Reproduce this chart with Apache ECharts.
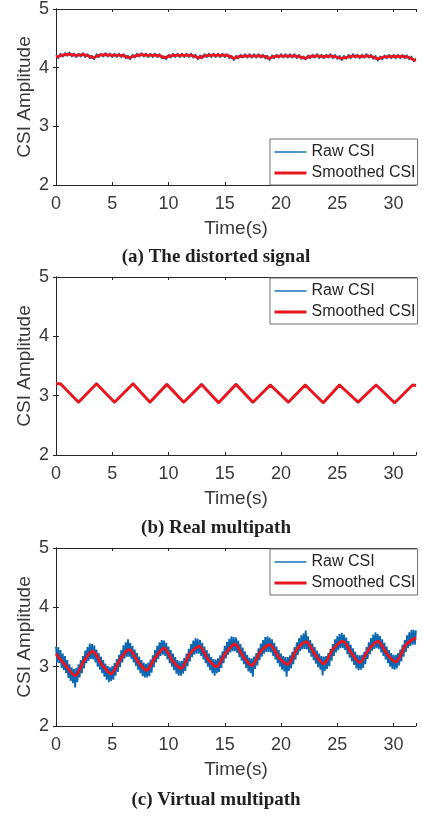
<!DOCTYPE html>
<html>
<head>
<meta charset="utf-8">
<title>CSI Amplitude</title>
<script src="https://cdn.jsdelivr.net/npm/echarts@6/dist/echarts.min.js"></script>
<style>
  html, body { margin: 0; padding: 0; background: #fff; }
  #chart { width: 422px; height: 816px; }
</style>
</head>
<body>
<div id="chart"></div>
<script>
// (a) distorted signal: raw sampled every 0.2 s
var stepA = 0.2;
var rawA = [
  4.22,4.15,4.25,4.18,4.26,4.19,4.27,4.18,4.25,4.17,
  4.25,4.18,4.26,4.17,4.24,4.15,4.21,4.13,4.24,4.17,
  4.25,4.18,4.26,4.18,4.25,4.17,4.25,4.17,4.25,4.17,
  4.24,4.15,4.21,4.13,4.23,4.16,4.25,4.18,4.26,4.18,
  4.25,4.17,4.25,4.17,4.25,4.17,4.24,4.15,4.20,4.13,
  4.23,4.16,4.25,4.17,4.25,4.17,4.25,4.17,4.25,4.17,
  4.25,4.16,4.23,4.13,4.22,4.15,4.24,4.17,4.25,4.17,
  4.25,4.17,4.25,4.17,4.25,4.17,4.24,4.15,4.21,4.12,
  4.21,4.15,4.23,4.16,4.24,4.16,4.24,4.16,4.24,4.16,
  4.24,4.16,4.23,4.15,4.21,4.12,4.22,4.15,4.23,4.16,
  4.24,4.16,4.24,4.16,4.24,4.16,4.24,4.15,4.23,4.14,
  4.20,4.13,4.22,4.15,4.23,4.16,4.24,4.15,4.23,4.15,
  4.23,4.16,4.24,4.15,4.23,4.14,4.21,4.12,4.21,4.14,
  4.23,4.15,4.24,4.16,4.23,4.15,4.23,4.16,4.24,4.16,
  4.23,4.14,4.21,4.11,4.20,4.13,4.22,4.15,4.23,4.15,
  4.23,4.15,4.23,4.15,4.23,4.15,4.22,4.13,4.20,4.10,
  4.16
];
var smoothTimeA = [0,0.5,1.1,1.8,2.4,2.9,3.3,3.8,4.4,5.0,5.6,6.1,6.45,7.0,7.6,8.2,8.8,9.3,9.6,10.1,
  10.7,11.3,11.9,12.4,12.7,13.2,13.8,14.4,15.0,15.5,15.8,16.3,16.9,17.5,18.1,18.6,18.9,19.4,20.0,20.6,
  21.2,21.8,22.1,22.6,23.2,23.8,24.4,25.0,25.35,25.9,26.5,27.1,27.7,28.2,28.6,29.1,29.7,30.3,30.9,31.4,31.9,32];
var smoothA = [4.18,4.21,4.23,4.21,4.22,4.20,4.17,4.21,4.22,4.21,4.21,4.20,4.17,4.20,4.22,4.21,4.21,4.20,4.17,4.20,
  4.21,4.21,4.21,4.19,4.17,4.20,4.21,4.21,4.21,4.19,4.16,4.19,4.20,4.20,4.20,4.19,4.16,4.19,4.20,4.20,
  4.20,4.18,4.16,4.19,4.20,4.19,4.20,4.18,4.16,4.18,4.20,4.19,4.20,4.18,4.15,4.18,4.19,4.19,4.19,4.17,4.13,4.13];

// (b) real multipath
var rawTimeB = [0,0.2,0.4,1.2,2.0,2.8,3.6,4.4,5.2,6.0,6.85,7.6,8.35,9.1,9.85,10.6,11.35,12.15,12.95,13.7,
  14.45,15.2,16.0,16.75,17.5,18.3,19.05,19.85,20.65,21.4,22.15,22.95,23.75,24.5,25.2,26.0,26.85,27.65,28.45,29.3,
  30.1,30.9,31.7,32.0];
var rawB = [3.21,3.20,3.21,3.04,2.87,3.05,3.22,3.05,2.87,3.04,3.22,3.05,2.87,3.04,3.21,3.04,2.87,3.05,3.21,3.03,
  2.86,3.04,3.21,3.04,2.87,3.03,3.20,3.03,2.87,3.04,3.20,3.03,2.86,3.03,3.20,3.04,2.87,3.03,3.20,3.03,
  2.86,3.03,3.19,3.17];
var smoothTimeB = [0,0.4,2.0,3.6,5.2,6.85,8.35,9.85,11.35,12.95,14.45,16.0,17.5,19.05,20.65,22.15,23.75,25.2,26.85,28.45,30.1,31.7,32.0];
var smoothB = [3.20,3.20,2.89,3.20,2.89,3.20,2.89,3.19,2.89,3.19,2.88,3.19,2.89,3.18,2.89,3.18,2.88,3.18,2.89,3.18,2.88,3.18,3.17];

// (c) virtual multipath: raw sampled every 0.1 s
var stepC = 0.1;
var rawC = [
  3.34,3.07,3.33,3.06,3.28,2.98,3.22,2.94,3.18,2.89,3.11,2.81,3.04,2.76,2.99,2.72,2.96,2.65,
  2.98,2.74,3.04,2.82,3.11,2.89,3.18,2.97,3.27,3.06,3.33,3.10,3.39,3.13,3.38,
  3.12,3.36,3.07,3.29,3.00,3.23,2.95,3.17,2.89,3.11,2.83,3.05,2.78,3.01,2.74,2.99,2.76,
  3.01,2.78,3.06,2.85,3.13,2.91,3.20,2.99,3.28,3.07,3.36,3.14,3.41,3.17,3.46,3.17,
  3.40,3.13,3.35,3.07,3.29,3.01,3.23,2.95,3.17,2.89,3.11,2.84,3.07,2.82,3.05,
  2.82,3.07,2.84,3.12,2.90,3.19,2.99,3.28,3.07,3.35,3.13,3.41,3.18,3.45,3.20,3.44,
  3.18,3.40,3.12,3.34,3.06,3.28,3.00,3.22,2.94,3.16,2.88,3.11,2.85,3.09,2.85,
  3.10,2.88,3.15,2.93,3.22,3.01,3.30,3.09,3.38,3.16,3.44,3.20,3.48,3.22,3.47,3.22,
  3.45,3.18,3.40,3.12,3.34,3.06,3.28,3.00,3.22,2.94,3.16,2.89,3.13,2.85,3.12,
  2.89,3.14,2.91,3.19,2.98,3.26,3.06,3.35,3.14,3.42,3.20,3.47,3.24,3.51,3.26,3.50,3.26,
  3.49,3.23,3.44,3.16,3.38,3.10,3.32,3.04,3.26,2.98,3.20,2.92,3.15,2.89,3.14,
  2.83,3.17,2.96,3.23,3.02,3.31,3.11,3.39,3.17,3.45,3.22,3.50,3.25,3.51,3.25,3.49,
  3.24,3.46,3.18,3.40,3.12,3.34,3.06,3.28,3.00,3.22,2.95,3.18,2.92,3.16,2.83,3.16,
  2.93,3.19,2.97,3.25,3.04,3.33,3.12,3.41,3.20,3.48,3.26,3.53,3.29,3.56,3.30,3.61,
  3.29,3.51,3.23,3.45,3.17,3.39,3.11,3.33,3.05,3.27,2.99,3.22,2.95,3.18,2.85,3.17,
  2.93,3.18,2.96,3.23,3.01,3.30,3.10,3.38,3.18,3.46,3.24,3.51,3.28,3.55,3.31,3.57,3.31,
  3.54,3.28,3.49,3.21,3.43,3.15,3.37,3.09,3.31,3.03,3.25,2.97,3.20,2.94,3.19,
  2.95,3.20,2.98,3.25,3.04,3.33,3.13,3.41,3.21,3.48,3.27,3.54,3.30,3.58,3.31,3.55,
  3.30,3.52,3.24,3.46,3.18,3.40,3.12,3.34,3.06,3.28,3.00,3.23,2.96,3.20,2.95,3.20,
  2.97,3.23,3.02,3.29,3.09,3.37,3.17,3.45,3.25,3.53,3.31,3.58,3.35,3.62,3.37,3.62,3.37,3.61
];
var smoothTimeC = [0,0.85,1.7,2.5,3.25,4.1,4.9,5.7,6.5,7.3,8.05,8.8,9.6,10.35,11.1,11.9,12.75,13.5,14.25,15.05,
  15.9,16.65,17.4,18.2,19.0,19.8,20.6,21.4,22.25,23.0,23.8,24.65,25.5,26.25,27.0,27.8,28.6,29.4,30.2,31.1,32];
var smoothC = [3.22,3.02,2.85,3.10,3.26,3.03,2.88,3.12,3.29,3.08,2.94,3.15,3.31,3.10,2.97,3.22,3.34,3.13,3.00,3.22,
  3.38,3.17,3.02,3.26,3.37,3.16,3.04,3.29,3.42,3.21,3.05,3.30,3.43,3.23,3.07,3.29,3.43,3.22,3.08,3.37,3.49];

var seriesNames = ['Raw CSI', 'Smoothed CSI'];
var captions = ['(a) The distorted signal', '(b) Real multipath', '(c) Virtual multipath'];
var xMin = 0, xMax = 32, xStep = 5;
var yMin = 2, yMax = 5, yStep = 1;

var gridTops = [7, 277, 548];
var legendTops = [139, 278, 549];
var captionYs = [257, 528, 800];
var rawWidths = [1.3, 1, 1.8];

var blue = '#0b68b3';
var red = '#e8161f';
var axisColor = '#262626';
var textColor = '#3a3a3a';
var sans = 'Liberation Sans, Arial, sans-serif';

function evenPairs(vals, step) {
    return vals.map(function (v, i) { return [+(i * step).toFixed(2), v]; });
}
function pairs(ts, vs) {
    return ts.map(function (t, i) { return [t, vs[i]]; });
}

var rawData = [evenPairs(rawA, stepA), pairs(rawTimeB, rawB), evenPairs(rawC, stepC)];
var smoothData = [pairs(smoothTimeA, smoothA), pairs(smoothTimeB, smoothB), pairs(smoothTimeC, smoothC)];

var grids = [], xAxes = [], yAxes = [], series = [], legends = [], texts = [];
for (var g = 0; g < 3; g++) {
    grids.push({ left: 56, top: gridTops[g], width: 360, height: 178 });
    // bottom + top x axes (box style)
    xAxes.push({
        type: 'value', gridIndex: g, min: xMin, max: xMax, interval: xStep,
        name: 'Time(s)', nameLocation: 'middle', nameGap: 34, nameMoveOverlap: false,
        nameTextStyle: { fontSize: 19, color: textColor, fontFamily: sans },
        axisLine: { show: true, lineStyle: { color: axisColor, width: 1 } },
        axisTick: { show: true, inside: true, length: 3, lineStyle: { color: axisColor } },
        axisLabel: { fontSize: 18, color: textColor, fontFamily: sans, margin: 10,
            formatter: function (v) { return v % 5 === 0 ? String(v) : ''; } },
        splitLine: { show: false }
    });
    xAxes.push({
        type: 'value', gridIndex: g, position: 'top', min: xMin, max: xMax, interval: xStep,
        axisLine: { show: true, lineStyle: { color: axisColor, width: 1 } },
        axisTick: { show: true, inside: true, length: 3, lineStyle: { color: axisColor } },
        axisLabel: { show: false }, splitLine: { show: false }
    });
    yAxes.push({
        type: 'value', gridIndex: g, min: yMin, max: yMax, interval: yStep,
        name: 'CSI Amplitude', nameLocation: 'middle', nameGap: 22, nameMoveOverlap: false,
        nameTextStyle: { fontSize: 19, color: textColor, fontFamily: sans },
        axisLine: { show: true, lineStyle: { color: axisColor, width: 1 } },
        axisTick: { show: true, inside: true, length: 3, lineStyle: { color: axisColor } },
        axisLabel: { fontSize: 18, color: textColor, fontFamily: sans, margin: 7 },
        splitLine: { show: false }
    });
    yAxes.push({
        type: 'value', gridIndex: g, position: 'right', min: yMin, max: yMax, interval: yStep,
        axisLine: { show: true, lineStyle: { color: axisColor, width: 1 } },
        axisTick: { show: true, inside: true, length: 3, lineStyle: { color: axisColor } },
        axisLabel: { show: false }, splitLine: { show: false }
    });
    series.push({
        name: seriesNames[0], type: 'line', xAxisIndex: g * 2, yAxisIndex: g * 2,
        data: rawData[g], showSymbol: false, symbol: 'none',
        lineStyle: { color: blue, width: rawWidths[g] }, itemStyle: { color: blue }, z: 2
    });
    series.push({
        name: seriesNames[1], type: 'line', xAxisIndex: g * 2, yAxisIndex: g * 2,
        data: smoothData[g], showSymbol: false, symbol: 'none', smooth: g === 1 ? false : 0.3,
        lineStyle: { color: red, width: 3 }, itemStyle: { color: red }, z: 3
    });
    legends.push({
        data: [
            { name: seriesNames[0], lineStyle: { width: 1.3, color: '#1a72bd' } },
            { name: seriesNames[1], lineStyle: { width: 3, color: red } }
        ],
        orient: 'vertical', left: 270, top: legendTops[g],
        padding: [5, 2, 4, 3], itemGap: 5, itemWidth: 32, itemHeight: 14,
        backgroundColor: '#fff', borderColor: '#6e6e6e', borderWidth: 1, borderRadius: 0,
        selectedMode: false,
        itemStyle: { opacity: 0 },
        textStyle: { fontSize: 16, color: '#262626', fontFamily: sans, lineHeight: 16 }
    });
    texts.push({
        type: 'text', x: 216, y: captionYs[g],
        style: { text: captions[g], font: 'bold 19px "Liberation Serif", serif', fill: '#231f20',
            textAlign: 'center', textVerticalAlign: 'middle' }
    });
}

var myChart = echarts.init(document.getElementById('chart'));
myChart.setOption({
    animation: false,
    backgroundColor: '#fff',
    grid: grids,
    xAxis: xAxes,
    yAxis: yAxes,
    legend: legends,
    series: series,
    graphic: texts
});
</script>
</body>
</html>
